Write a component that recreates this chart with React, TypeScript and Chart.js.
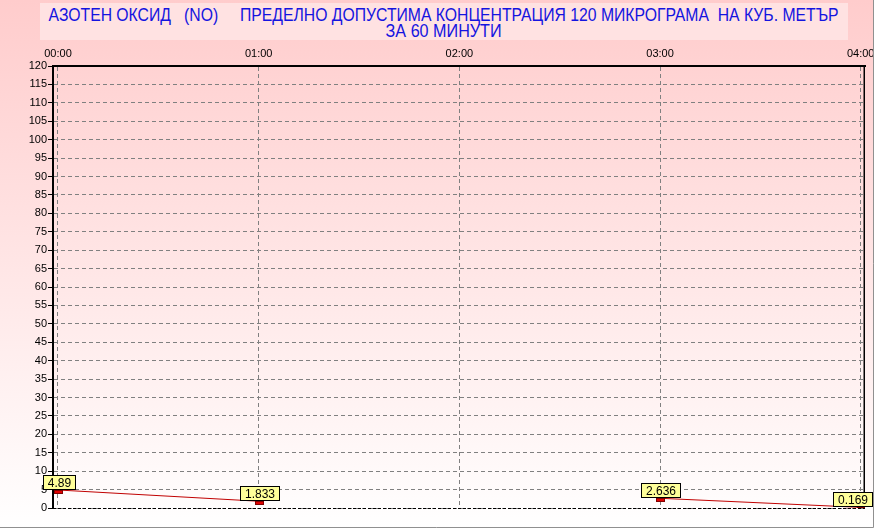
import React, { useEffect, useLayoutEffect, useRef } from "react";
import { Chart, registerables } from "chart.js";

Chart.register(...registerables);

const hours = [0, 1, 2, 3, 4];
const timeLabels = ["00:00", "01:00", "02:00", "03:00", "04:00"];
const noValues: (number | null)[] = [4.89, 1.833, null, 2.636, 0.169];
const valueLabels = ["4.89", "1.833", "", "2.636", "0.169"];
const titleLine1 =
  "АЗОТЕН ОКСИД   (NO)     ПРЕДЕЛНО ДОПУСТИМА КОНЦЕНТРАЦИЯ 120 МИКРОГРАМА  НА КУБ. МЕТЪР";
const titleLine2 = "ЗА 60 МИНУТИ";
const yMin = 0;
const yMax = 120;
const yStep = 5;

const FONT = '"Liberation Sans", Arial, sans-serif';

const overlayPlugin = {
  id: "overlay",
  afterDatasetsDraw(chart: any) {
    const { ctx, chartArea: a } = chart;
    ctx.save();
    // right border
    ctx.strokeStyle = "#000";
    ctx.lineWidth = 1.5;
    ctx.beginPath();
    ctx.moveTo(a.right - 0.75, a.top);
    ctx.lineTo(a.right - 0.75, a.bottom);
    ctx.stroke();
    // bottom dashed border
    ctx.lineWidth = 1;
    ctx.setLineDash([3, 2]);
    ctx.beginPath();
    ctx.moveTo(a.left, a.bottom + 0.5);
    ctx.lineTo(a.right, a.bottom + 0.5);
    ctx.stroke();
    ctx.setLineDash([]);

    const meta = chart.getDatasetMeta(0);
    ctx.save();
    ctx.beginPath();
    ctx.rect(a.left, a.top, a.right - a.left, a.bottom - a.top);
    ctx.clip();
    meta.data.forEach((pt: any, i: number) => {
      if (noValues[i] == null) return;
      const x = Math.round(pt.x);
      const y = Math.round(pt.y);
      ctx.fillStyle = "#e00000";
      ctx.fillRect(x - 4, y, 9, 4);
      ctx.strokeStyle = "#800000";
      ctx.lineWidth = 1;
      ctx.strokeRect(x - 3.5, y + 0.5, 8, 3);
    });
    ctx.restore();

    ctx.font = "12px " + FONT;
    meta.data.forEach((pt: any, i: number) => {
      if (noValues[i] == null) return;
      const t = valueLabels[i];
      const x = Math.round(pt.x);
      const y = Math.round(pt.y);
      const w = Math.round(ctx.measureText(t).width) + 10;
      const h = 15;
      let bx = Math.round(x + 1 - w / 2);
      if (bx + w > 873) bx = 873 - w;
      const by = y - h;
      ctx.fillStyle = "#ffff99";
      ctx.fillRect(bx, by, w, h);
      ctx.strokeStyle = "#000";
      ctx.lineWidth = 1;
      ctx.strokeRect(bx + 0.5, by + 0.5, w - 1, h - 1);
      ctx.fillStyle = "#000";
      ctx.textAlign = "center";
      ctx.textBaseline = "middle";
      ctx.fillText(t, bx + w / 2, by + h / 2 + 1);
    });

    ctx.strokeStyle = "#909090";
    ctx.lineWidth = 1;
    ctx.beginPath();
    ctx.moveTo(873.5, 0);
    ctx.lineTo(873.5, 527.5);
    ctx.lineTo(0, 527.5);
    ctx.stroke();
    ctx.restore();
  },
};

function FitLine({ text, width }: { text: string; width: number }) {
  const ref = useRef<HTMLSpanElement | null>(null);
  useLayoutEffect(() => {
    const el = ref.current;
    if (!el) return;
    el.style.transform = "none";
    const w = el.getBoundingClientRect().width;
    if (w > 0) el.style.transform = `scaleX(${width / w})`;
  }, [text, width]);
  return (
    <div style={{ display: "flex", justifyContent: "center", height: 16 }}>
      <span
        ref={ref}
        style={{
          display: "inline-block",
          whiteSpace: "pre",
          flexShrink: 0,
          transformOrigin: "50% 50%",
        }}
      >
        {text}
      </span>
    </div>
  );
}

export default function App() {
  const ref = useRef<HTMLCanvasElement | null>(null);

  useEffect(() => {
    if (!ref.current) return;
    const chart = new Chart(ref.current, {
      type: "line",
      data: {
        datasets: [
          {
            data: hours.map((h, i) => ({ x: h, y: noValues[i] })) as any,
            borderColor: "#c00000",
            borderWidth: 1,
            pointRadius: 0,
            spanGaps: false,
            tension: 0,
          },
        ],
      },
      options: {
        animation: false,
        responsive: false,
        devicePixelRatio: 1,
        layout: { padding: { left: 0, right: 9, top: 0, bottom: 21 } },
        plugins: {
          legend: { display: false },
          tooltip: { enabled: false },
          title: { display: false },
        },
        scales: {
          x: {
            type: "linear",
            position: "top",
            min: -0.0249,
            max: 4.0214,
            afterFit(scale: any) {
              scale.height = 66;
              scale.paddingLeft = 0;
              scale.paddingRight = 0;
            },
            afterBuildTicks(scale: any) {
              scale.ticks = hours.map((v) => ({ value: v }));
            },
            ticks: {
              callback: (v: any) => timeLabels[hours.indexOf(Number(v))] ?? "",
              color: "#000",
              font: { family: FONT, size: 11 },
              padding: 5,
              maxRotation: 0,
              autoSkip: false,
            },
            grid: {
              color: "#808080",
              lineWidth: 1,
              drawTicks: false,
            },
            border: { display: true, color: "#000", width: 2, dash: [4, 3] },
          },
          y: {
            type: "linear",
            min: yMin,
            max: yMax,
            afterFit(scale: any) {
              scale.width = 53;
              scale.paddingTop = 0;
              scale.paddingBottom = 0;
            },
            ticks: {
              stepSize: yStep,
              color: "#000",
              font: { family: FONT, size: 11 },
              padding: 1,
              autoSkip: false,
            },
            grid: {
              color: "#808080",
              lineWidth: 1,
              drawTicks: true,
              tickLength: 5,
              tickColor: "#000",
              tickBorderDash: [],
            },
            border: { display: true, color: "#000", width: 2, dash: [4, 3] },
          },
        },
      },
      plugins: [overlayPlugin],
    });
    return () => chart.destroy();
  }, []);

  return (
    <div
      style={{
        position: "absolute",
        left: 0,
        top: 0,
        width: 874,
        height: 529,
        background: "linear-gradient(to bottom, #ffcccc 0%, #ffffff 100%)",
        overflow: "hidden",
      }}
    >
      <div
        style={{
          position: "absolute",
          left: 40,
          top: 3,
          width: 808,
          height: 37,
          background: "#ffe2e2",
          color: "#1414e0",
          fontFamily: FONT,
          fontSize: 18,
          lineHeight: "16px",
          paddingTop: 4,
          boxSizing: "border-box",
        }}
      >
        <FitLine text={titleLine1} width={790} />
        <FitLine text={titleLine2} width={116} />
      </div>
      <canvas
        ref={ref}
        width={874}
        height={529}
        style={{ position: "absolute", left: 0, top: 0, width: 874, height: 529 }}
      />
    </div>
  );
}
